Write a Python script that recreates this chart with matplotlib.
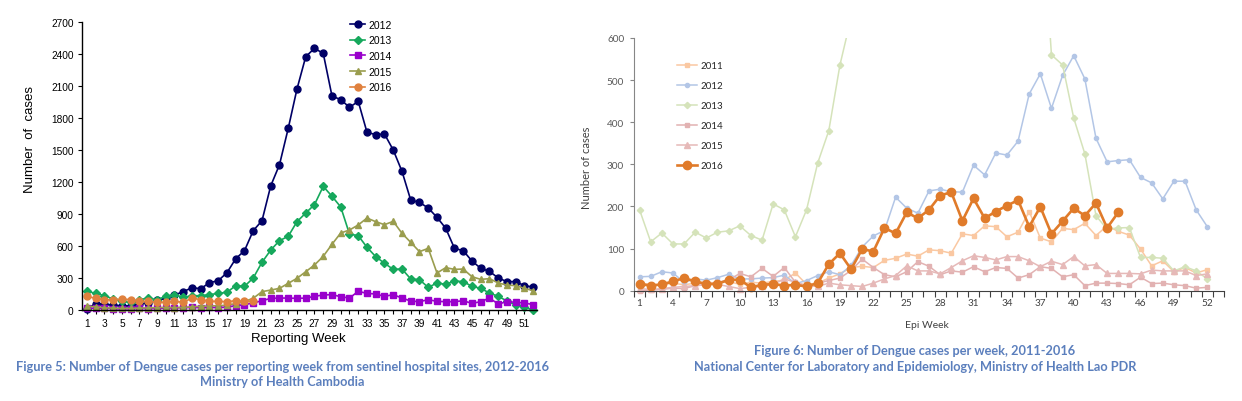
import numpy as np
import matplotlib as mpl
mpl.use('Agg')
import matplotlib.pyplot as plt
from matplotlib.ticker import FixedLocator, NullFormatter

W, H = 1242, 402
ArialLike = 'Liberation Sans'
CalibriLike = 'Lato'
CaptionColor = '#5B7FBD'
CaptionSize = 9.2

# --- Figure 5: Cambodia, sentinel hospital sites (weekly cases)
kh_weeks = np.arange(1, 53)
kh_2012 = [10, 60, 55, 45, 40, 40, 55, 70, 90, 110, 140, 172, 209, 200, 256, 275, 350, 481, 556, 744,
           837, 1164, 1362, 1703, 2072, 2375, 2453, 2406, 2006, 1972, 1900, 1956, 1666, 1644, 1650, 1500,
           1300, 1030, 1009, 956, 869, 766, 578, 556, 459, 391, 362, 300, 266, 266, 228, 216]
kh_2013 = [175, 156, 134, 103, 80, 72, 97, 112, 97, 128, 144, 119, 134, 134, 144, 156, 166, 228, 222, 300,
           447, 562, 650, 691, 828, 909, 988, 1159, 1066, 966, 712, 697, 588, 500, 438, 381, 384, 291,
           284, 212, 253, 241, 272, 266, 222, 203, 159, 128, 84, 47, 25, 0]
kh_2014 = [20, 15, 18, 12, 10, 12, 15, 12, 15, 18, 20, 22, 25, 22, 25, 22, 28, 40, 50, 66, 87, 109, 112,
           112, 109, 112, 128, 141, 144, 125, 112, 175, 156, 150, 128, 144, 112, 84, 78, 97, 81, 78, 78,
           87, 62, 78, 112, 56, 78, 72, 66, 50]
kh_2015 = [35, 30, 20, 18, 15, 15, 18, 20, 22, 25, 22, 25, 30, 35, 38, 40, 45, 60, 80, 110, 172, 187, 203,
           250, 297, 359, 422, 503, 616, 722, 750, 797, 862, 828, 800, 831, 719, 634, 547, 578, 347, 397,
           381, 384, 312, 287, 294, 253, 234, 228, 203, 181]
kh_2016 = [128, 109, 97, 94, 103, 97, 81, 81, 72, 72, 81, 72, 112, 97, 81, 81, 78, 87, 81, 81]

# --- Figure 6: Lao PDR, weekly cases 2011-2016 (2013 runs off the top of the chart)
la_weeks = np.arange(1, 53)
la_2011 = [18, 15, 14, 18, 14, 18, 20, 18, 22, 15, 20, 18, 22, 25, 42, 15, 18, 30, 40, 55, 58, 55, 72, 77,
           87, 82, 97, 95, 89, 135, 131, 154, 152, 128, 139, 188, 125, 116, 148, 145, 160, 131, 154, 141,
           132, 99, 59, 71, 45, 55, 42, 50]
la_2012 = [33, 34, 45, 42, 20, 28, 25, 31, 39, 28, 28, 30, 31, 37, 17, 24, 36, 45, 38, 60, 104, 130, 143,
           222, 196, 184, 237, 241, 235, 234, 298, 275, 327, 322, 355, 467, 515, 433, 511, 558, 503, 362,
           306, 309, 311, 269, 256, 218, 260, 260, 192, 152]
la_2013 = [192, 116, 137, 111, 111, 139, 125, 139, 142, 154, 131, 120, 206, 192, 128, 192, 303, 380, 536,
           648, 800, 950, 1100, 1250, 1400, 1550, 1700, 1800, 1850, 1800, 1700, 1550, 1400, 1250, 1150,
           1050, 960, 560, 536, 410, 325, 178, 146, 149, 150, 79, 79, 77, 47, 57, 47, 28]
la_2014 = [0, 1, 3, 6, 5, 12, 14, 20, 25, 41, 33, 53, 34, 55, 20, 12, 18, 24, 30, 48, 75, 55, 38, 33, 45,
           69, 58, 38, 47, 44, 57, 45, 55, 53, 30, 38, 57, 53, 33, 38, 12, 18, 18, 17, 14, 32, 17, 18, 14,
           12, 6, 8]
la_2015 = [5, 3, 5, 8, 10, 12, 15, 15, 10, 5, 8, 10, 15, 28, 20, 12, 10, 18, 14, 12, 10, 18, 28, 36, 59,
           47, 47, 40, 55, 71, 83, 79, 73, 81, 81, 71, 57, 70, 62, 81, 59, 62, 41, 41, 41, 40, 49, 47, 47,
           47, 36, 40]
la_2016 = [16, 12, 15, 22, 30, 22, 16, 16, 26, 26, 8, 14, 16, 12, 14, 10, 18, 63, 89, 51, 99, 93, 149, 136,
           186, 172, 192, 226, 234, 166, 219, 172, 188, 202, 215, 152, 199, 135, 165, 196, 178, 208, 149, 186]


def px(x0, y_top, x1, y_bot):
    # pixel box -> figure fraction rect
    return [x0 / W, 1 - y_bot / H, (x1 - x0) / W, (y_bot - y_top) / H]


def caption(fig, x, y, txt):
    fig.text(x / W, 1 - y / H, txt, ha='center', va='center', fontsize=CaptionSize,
             family=CalibriLike, weight='bold', color=CaptionColor)


def plot_cambodia(fig):
    ax = fig.add_axes(px(82, 23, 537, 311))
    series = [(kh_2012, '2012', '#000066', 'o', 5.0),
              (kh_2013, '2013', '#16A85C', 'D', 4.2),
              (kh_2014, '2014', '#9900CC', 's', 4.6),
              (kh_2015, '2015', '#9A9D4E', '^', 5.0),
              (kh_2016, '2016', '#E0813E', 'o', 5.0)]
    for vals, lab, col, mk, ms in series:
        ax.plot(kh_weeks[:len(vals)], vals, color=col, marker=mk, ms=ms, lw=1.2,
                label=lab, clip_on=False)
    ax.set_xlim(0.43, 52.43)
    ax.set_ylim(0, 2700)
    ax.set_yticks(np.arange(0, 2701, 300))
    ax.xaxis.set_major_locator(FixedLocator(np.arange(1, 52, 2)))
    ax.xaxis.set_minor_locator(FixedLocator(np.arange(2, 53, 2)))
    ax.tick_params(axis='both', which='both', direction='out', length=3, width=0.8,
                   labelsize=7.3, pad=3, color='black')
    for t in ax.get_xticklabels() + ax.get_yticklabels():
        t.set_fontfamily(ArialLike)
    for s in ['top', 'right']:
        ax.spines[s].set_visible(False)
    for s in ['left', 'bottom']:
        ax.spines[s].set_color('black')
        ax.spines[s].set_linewidth(1.0)
    fig.text(30 / W, 1 - 140 / H, 'Number  of  cases', rotation=90, ha='center', va='center',
             fontsize=9.5, family=ArialLike)
    fig.text(298 / W, 1 - 339 / H, 'Reporting Week', ha='center', va='center',
             fontsize=9.5, family=ArialLike)
    ax.legend(loc='upper left', bbox_to_anchor=(350 / W, 1 - 20.5 / H), bbox_transform=fig.transFigure,
              frameon=False, borderpad=0, borderaxespad=0, handlelength=1.45, handletextpad=0.3,
              labelspacing=0.55, prop={'family': ArialLike, 'size': 7.5})
    caption(fig, 282, 367,
            'Figure 5: Number of Dengue cases per reporting week from sentinel hospital sites, 2012-2016')
    caption(fig, 282, 382.5, 'Ministry of Health Cambodia')


def plot_lao(fig):
    ax = fig.add_axes(px(634, 39, 1224, 291.7))
    series = [(la_2011, '2011', '#FAC8A2', 's', 2.6, 1.1),
              (la_2012, '2012', '#B3C6E6', 'o', 3.0, 1.1),
              (la_2013, '2013', '#D5E3BA', 'D', 3.2, 1.1),
              (la_2014, '2014', '#E2B2B2', 's', 3.0, 1.1),
              (la_2015, '2015', '#E6B9B8', '^', 4.0, 1.1),
              (la_2016, '2016', '#E07B2A', 'o', 6.0, 1.9)]
    for vals, lab, col, mk, ms, lw in series:
        ax.plot(la_weeks[:len(vals)], vals, color=col, marker=mk, ms=ms, lw=lw, label=lab,
                clip_on=(lab == '2013'))
    ax.set_xlim(0.5, 53.5)
    ax.set_ylim(0, 600)
    ax.set_yticks(np.arange(0, 601, 100))
    ax.xaxis.set_major_locator(FixedLocator(np.arange(1, 53, 3)))
    ax.xaxis.set_minor_locator(FixedLocator(np.arange(0.5, 53.6, 1)))
    ax.xaxis.set_minor_formatter(NullFormatter())
    gray = '#868686'
    ax.tick_params(axis='x', which='major', length=0, pad=5, labelsize=7.2, labelcolor='#404040')
    ax.tick_params(axis='x', which='minor', direction='out', length=4.5, width=0.8, color='#404040')
    ax.tick_params(axis='y', which='major', direction='out', length=3, width=0.8, color=gray,
                   pad=4, labelsize=7.2, labelcolor='#595959')
    for t in ax.get_xticklabels() + ax.get_yticklabels():
        t.set_fontfamily(CalibriLike)
    for s in ['top', 'right']:
        ax.spines[s].set_visible(False)
    ax.spines['left'].set_color(gray)
    ax.spines['bottom'].set_color('#404040')
    ax.spines['left'].set_linewidth(0.8)
    ax.spines['bottom'].set_linewidth(0.8)
    fig.text(587 / W, 1 - 168 / H, 'Number of cases', rotation=90, ha='center', va='center',
             fontsize=8, family=CalibriLike, color='#404040')
    fig.text(927 / W, 1 - 326 / H, 'Epi Week', ha='center', va='center',
             fontsize=7.5, family=CalibriLike, color='#404040')
    ax.legend(loc='upper left', bbox_to_anchor=(677 / W, 1 - 62 / H), bbox_transform=fig.transFigure,
              frameon=False, borderpad=0, borderaxespad=0, handlelength=2.1, handletextpad=0.35,
              labelspacing=1.14, prop={'family': CalibriLike, 'size': 7}, labelcolor='#262626')
    caption(fig, 915, 351.5, 'Figure 6: Number of Dengue cases per week, 2011-2016')
    caption(fig, 915, 367,
            'National Center for Laboratory and Epidemiology, Ministry of Health Lao PDR')


if __name__ == '__main__':
    fig = plt.figure(figsize=(W / 100, H / 100), dpi=100)
    fig.patch.set_facecolor('white')
    plot_cambodia(fig)
    plot_lao(fig)
    fig.savefig('out.png', dpi=100, facecolor='white')
